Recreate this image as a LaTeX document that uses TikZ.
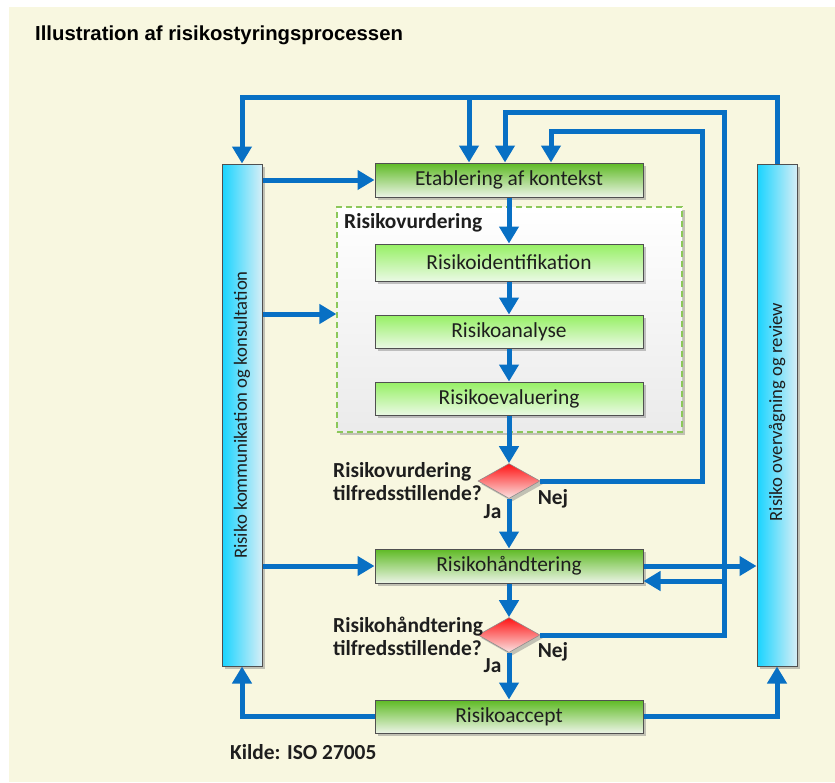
\documentclass[tikz,border=0pt]{standalone}
\usepackage{fontspec}
\setmainfont{Carlito}
\newfontfamily\titlefont{Liberation Sans}
\usetikzlibrary{arrows.meta,shapes.geometric,shadows}

\definecolor{bg}{RGB}{248,247,224}
\definecolor{flowblue}{RGB}{8,112,196}
\definecolor{stageTop}{RGB}{94,186,36}
\definecolor{stageBot}{RGB}{236,244,230}
\definecolor{subTop}{RGB}{150,240,100}
\definecolor{subBot}{RGB}{234,249,228}
\definecolor{barCyan}{RGB}{24,212,255}
\definecolor{barPale}{RGB}{214,238,246}
\definecolor{dashGreen}{RGB}{140,200,90}
\definecolor{boxEdge}{RGB}{80,80,80}
\definecolor{txt}{RGB}{30,30,30}
\definecolor{decTop}{RGB}{255,20,20}
\definecolor{decBot}{RGB}{250,228,228}

\tikzset{
  boxshadow/.style={drop shadow={shadow xshift=3pt,shadow yshift=-3pt,opacity=0.45,fill=black!50}},
  stagebox/.style={draw=boxEdge, line width=1pt, minimum width=268pt, minimum height=34pt,
    top color=stageTop, bottom color=stageBot, boxshadow,
    font=\fontsize{21.4}{24}\selectfont, text=txt, inner sep=0pt},
  substage/.style={stagebox, top color=subTop, bottom color=subBot},
  sidebar/.style={draw=boxEdge, line width=1pt, minimum width=40pt, minimum height=502pt,
    left color=barCyan, right color=barPale, boxshadow,
    font=\fontsize{18.7}{22}\selectfont, text=txt, inner sep=0pt},
  decision/.style={diamond, draw=black!45, line width=0.6pt, minimum width=62pt, minimum height=35pt,
    inner sep=0pt, top color=decTop, bottom color=decBot, boxshadow},
  groupbox/.style={draw=dashGreen, line width=1.2pt, dash pattern=on 6pt off 4pt,
    minimum width=345pt, minimum height=225pt, top color=white, bottom color=black!8, boxshadow},
  note/.style={font=\fontsize{21.4}{23}\selectfont\bfseries, text=txt, inner sep=0pt},
  flow/.style={draw=flowblue, line width=5pt, -{Triangle[width=19pt,length=17pt]}}
}

\begin{document}
\begin{tikzpicture}[x=1pt,y=-1pt]
  % page and backdrop
  \fill[white] (0,0) rectangle (835,782);
  \fill[bg] (9,7) rectangle (835,782);
  \useasboundingbox (0,0) rectangle (835,782);

  \node[anchor=west, inner sep=0pt, font=\titlefont\fontsize{20.3}{24}\selectfont\bfseries] (title)
    at (35,35) {Illustration af risikostyringsprocessen};

  % risk assessment group
  \node[groupbox] (rv) at (509.5,319.5) {};
  \node[note, anchor=west] (rvlabel) at (344,223) {Risikovurdering};

  % side bars
  \node[sidebar] (lbar) at (242,415) {\rotatebox{90}{Risiko kommunikation og konsultation}};
  \node[sidebar] (rbar) at (777,415) {\raisebox{6pt}{\rotatebox{90}{Risiko overvågning og review}}};

  % process steps
  \node[stagebox] (ctx) at (509,180) {Etablering af kontekst};
  \node[substage, minimum height=37pt] (ident) at (509,262.5) {Risikoidentifikation};
  \node[substage, minimum height=33pt] (anal) at (509,331.5) {Risikoanalyse};
  \node[substage, minimum height=33pt] (eval) at (509,398.5) {Risikoevaluering};
  \node[decision] (d1) at (509,481) {};
  \node[stagebox] (hand) at (509,566) {Risikohåndtering};
  \node[decision] (d2) at (509,635) {};
  \node[stagebox, minimum height=33pt] (accept) at (509,716.5) {Risikoaccept};

  % decision labels
  \node[note, anchor=west, align=left] (q1) at (333,481.5) {Risikovurdering\\tilfredsstillende?};
  \node[note] (nej1) at (553,499) {Nej};
  \node[note] (ja1) at (492.5,512) {Ja};
  \node[note, anchor=west, align=left] (q2) at (333,636) {Risikohåndtering\\tilfredsstillende?};
  \node[note] (nej2) at (553,652) {Nej};
  \node[note] (ja2) at (492.5,666) {Ja};

  \node[note, anchor=west] (src) at (230,752) {Kilde: ISO 27005};

  % loop levels and drop points
  \coordinate (y1) at (0,97);
  \coordinate (y2) at (0,112);
  \coordinate (y3) at (0,131);
  \coordinate (x1) at (469,0);
  \coordinate (x2) at (505,0);
  \coordinate (x3) at (551,0);
  \coordinate (xr2) at (724,0);
  \coordinate (xr3) at (702,0);
  \coordinate (yrv) at (0,314);
  \coordinate (yret) at (0,581);

  % main chain
  \foreach \a/\b in {ctx/ident, ident/anal, anal/eval, eval/d1, d1/hand, hand/d2, d2/accept}
    \draw[flow] (\a.south) -- (\b.north);

  % outer loop from monitoring back to context and communication
  \draw[flow] (rbar.north) -- (rbar.north |- y1) -| (lbar.north);
  \draw[flow] (x1 |- y1) -- (x1 |- ctx.north);

  % "Nej" from treatment decision
  \draw[flow] (d2.east) -- (xr2 |- d2.east) -- (xr2 |- y2) -- (x2 |- y2) -- (x2 |- ctx.north);
  \draw[flow] (xr2 |- yret) -- (hand.east |- yret);

  % "Nej" from assessment decision
  \draw[flow] (d1.east) -- (xr3 |- d1.east) -- (xr3 |- y3) -- (x3 |- y3) -- (x3 |- ctx.north);

  % communication bar outputs
  \draw[flow] (lbar.east |- ctx.west) -- (ctx.west);
  \draw[flow] (lbar.east |- yrv) -- (rv.west |- yrv);
  \draw[flow] (lbar.east |- hand.west) -- (hand.west);

  % treatment to monitoring
  \draw[flow] (hand.east) -- (rbar.west |- hand.east);

  % acceptance feeds both bars
  \draw[flow] (accept.west) -| (lbar.south);
  \draw[flow] (accept.east) -| (rbar.south);
\end{tikzpicture}
\end{document}
